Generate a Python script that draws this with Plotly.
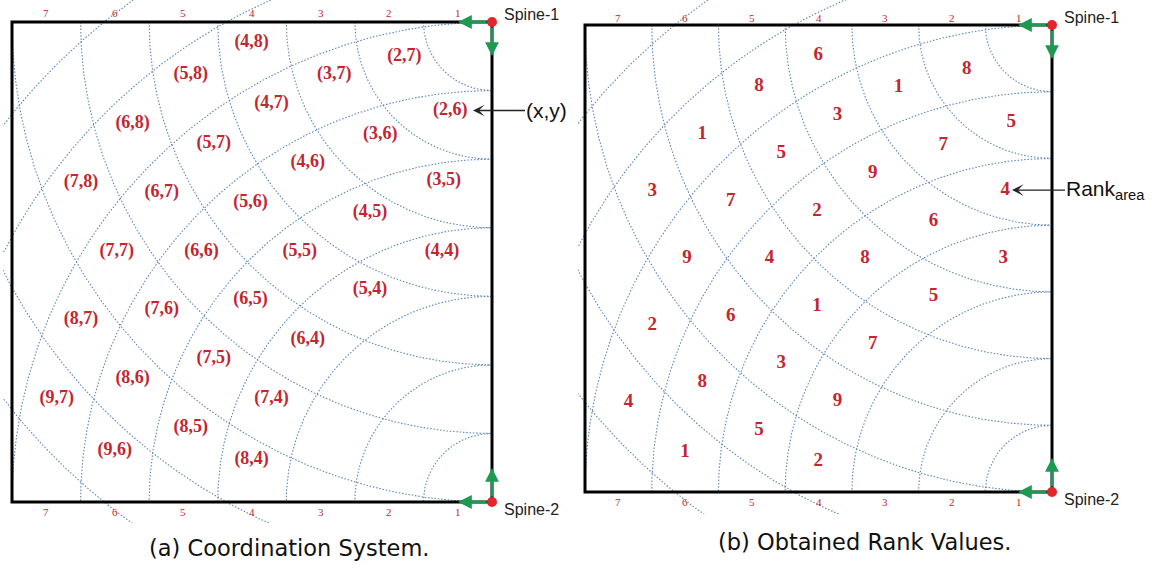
import numpy as np
import plotly.graph_objects as go

# ---------------- data ----------------
# edge band labels (distance bands from a spine, along top / bottom edges)
band_numbers = [1, 2, 3, 4, 5, 6, 7]
# arcs drawn around each spine (radius in band units)
arc_radii = [1, 2, 3, 4, 5, 6, 7, 8, 9]
# cells: x = band index from Spine-1, y = band index from Spine-2
cell_x = [4, 5, 2, 3, 6, 4, 2, 5, 3, 7, 6, 4, 5, 3, 4, 7, 6, 5, 4, 6, 5, 8, 7, 6, 7, 9, 8, 7, 8, 9, 8]
cell_y = [8, 8, 7, 7, 8, 7, 6, 7, 6, 8, 7, 6, 6, 5, 5, 7, 6, 5, 4, 5, 4, 7, 6, 4, 5, 7, 6, 4, 5, 6, 4]
rank_values = [6, 8, 8, 1, 1, 3, 5, 5, 7, 3, 7, 9, 2, 4, 6, 9, 4, 8, 3, 1, 5, 2, 6, 7, 3, 4, 8, 9, 5, 1, 2]
pointer_cell_a = (2, 6)   # cell the "(x,y)" arrow points at
pointer_cell_b = (3, 5)   # cell the "Rank_area" arrow points at
captions = ["(a) Coordination System.", "(b) Obtained Rank Values."]

# ---------------- styles ----------------
W, H = 1154, 569
BOX = 7.0
RED = "#c3262e"
BLUE = "#5b84b9"
GREEN = "#1c9a52"
SERIF = "Liberation Serif"
SANS = "Liberation Sans"

# panel pixel geometry
panels = [
    dict(sx=492, top=22, bot=502, area=(3, 497, 0, 523), xa="x", ya="y",
         cap_x=289, cap_y=548, tl_up=9, tl_dn=10, ptr=(19, 33), lab_up=11),
    dict(sx=1052, top=25, bot=492, area=(578, 1057, 0, 514), xa="x2", ya="y2",
         cap_x=864, cap_y=542, tl_up=7, tl_dn=10, ptr=(40, 13), lab_up=0),
]

# cell centroids (computed on a grid inside the box)
g = np.linspace(0, BOX, 701)
GX, GY = np.meshgrid(g, g)
B1 = np.ceil(np.hypot(GX - BOX, GY - BOX))
B2 = np.ceil(np.hypot(GX - BOX, GY))


def centroid(i, j):
    m = (B1 == i) & (B2 == j)
    return float(GX[m].mean()), float(GY[m].mean())


cent = [centroid(i, j) for i, j in zip(cell_x, cell_y)]
cx = np.array([c[0] for c in cent])
cy = np.array([c[1] for c in cent])

fig = go.Figure()
layout_axes = {}
annotations = []
dot_line = dict(color=BLUE, width=1.1, dash="1.5px,1.8px")

for p_i, P in enumerate(panels):
    u = (P["bot"] - P["top"]) / BOX
    x0p, x1p, y0p, y1p = P["area"]
    xr = [(x0p - P["sx"]) / u + BOX, (x1p - P["sx"]) / u + BOX]
    yr = [(P["bot"] - y1p) / u, (P["bot"] - y0p) / u]
    xkey = "xaxis" if p_i == 0 else "xaxis2"
    ykey = "yaxis" if p_i == 0 else "yaxis2"
    layout_axes[xkey] = dict(domain=[x0p / W, x1p / W], range=xr, visible=False,
                             anchor=P["ya"], fixedrange=True)
    layout_axes[ykey] = dict(domain=[1 - y1p / H, 1 - y0p / H], range=yr, visible=False,
                             anchor=P["xa"], fixedrange=True)
    xa, ya = P["xa"], P["ya"]

    # arcs around Spine-1 (top-right corner), lower-left quadrant
    for r in arc_radii:
        t = np.linspace(np.pi, 1.5 * np.pi, 300)
        fig.add_trace(go.Scatter(x=BOX + r * np.cos(t), y=BOX + r * np.sin(t), mode="lines",
                                 line=dot_line, hoverinfo="skip", showlegend=False,
                                 xaxis=xa, yaxis=ya))
    # arcs around Spine-2 (bottom-right corner), upper-left quadrant
    for r in arc_radii:
        t = np.linspace(0.5 * np.pi, np.pi, 300)
        fig.add_trace(go.Scatter(x=BOX + r * np.cos(t), y=r * np.sin(t), mode="lines",
                                 line=dot_line, hoverinfo="skip", showlegend=False,
                                 xaxis=xa, yaxis=ya))
    # box
    fig.add_trace(go.Scatter(x=[BOX, 0, 0, BOX, BOX], y=[BOX, BOX, 0, 0, BOX], mode="lines",
                             line=dict(color="black", width=3), hoverinfo="skip",
                             showlegend=False, xaxis=xa, yaxis=ya))
    # cell labels
    if p_i == 0:
        texts = ["<b>(%d,%d)</b>" % (a, b) for a, b in zip(cell_x, cell_y)]
        fsize = 18
    else:
        texts = ["<b>%d</b>" % v for v in rank_values]
        fsize = 19
    fig.add_trace(go.Scatter(x=cx, y=cy + P["lab_up"] / u, mode="text", text=texts,
                             textfont=dict(family=SERIF, size=fsize, color=RED),
                             hoverinfo="skip", showlegend=False, xaxis=xa, yaxis=ya))
    # spine dots
    fig.add_trace(go.Scatter(x=[BOX, BOX], y=[BOX, 0], mode="markers",
                             marker=dict(color="#e3262b", size=10), cliponaxis=False,
                             hoverinfo="skip", showlegend=False, xaxis=xa, yaxis=ya))

    # band labels along top and bottom edges
    for k in band_numbers:
        for yy, sh in ((BOX, P["tl_up"]), (0, -P["tl_dn"])):
            annotations.append(dict(x=BOX - (k - 0.5), y=yy, xref=xa, yref=ya, text=str(k),
                                    showarrow=False, yshift=sh,
                                    font=dict(family=SERIF, size=11, color=RED)))
    # green direction arrows at spines
    L = 34 / u
    for (tx, ty, sx, sy) in ((BOX - L, BOX, BOX, BOX), (BOX, BOX - L, BOX, BOX),
                             (BOX - L, 0, BOX, 0), (BOX, L, BOX, 0)):
        annotations.append(dict(x=tx, y=ty, ax=sx, ay=sy, xref=xa, yref=ya, axref=xa, ayref=ya,
                                text="", showarrow=True, arrowhead=2, arrowsize=1.15,
                                arrowwidth=2.4, arrowcolor=GREEN, startstandoff=4))
    # spine names
    annotations.append(dict(x=BOX, y=BOX, xref=xa, yref=ya, text="Spine-1", showarrow=False,
                            xanchor="left", xshift=10, yshift=8,
                            font=dict(family=SANS, size=16, color="#222222")))
    annotations.append(dict(x=BOX, y=0, xref=xa, yref=ya, text="Spine-2", showarrow=False,
                            xanchor="left", xshift=10, yshift=-7,
                            font=dict(family=SANS, size=16, color="#222222")))
    # pointer arrow with its text
    pc = pointer_cell_a if p_i == 0 else pointer_cell_b
    _, py_ = centroid(*pc)
    py_ = py_ + P["lab_up"] / u
    tip_px, tail_px = P["ptr"]
    txt = "(x,y)" if p_i == 0 else "Rank<sub>area</sub>"
    annotations.append(dict(x=BOX - tip_px / u, y=py_, ax=BOX + tail_px / u, ay=py_,
                            xref=xa, yref=ya, axref=xa, ayref=ya, text=txt,
                            xanchor="left", yanchor="middle", borderpad=0,
                            showarrow=True, arrowhead=3, arrowsize=1.5,
                            arrowwidth=1.3, arrowcolor="#222222",
                            font=dict(family=SANS, size=21, color="#111111")))
    # caption
    annotations.append(dict(x=P["cap_x"] / W, y=1 - P["cap_y"] / H, xref="paper", yref="paper",
                            text=captions[p_i], showarrow=False, xanchor="center",
                            yanchor="middle",
                            font=dict(family="DejaVu Sans", size=22.5, color="#111111")))

fig.update_layout(width=W, height=H, margin=dict(l=0, r=0, t=0, b=0),
                  paper_bgcolor="white", plot_bgcolor="white",
                  annotations=annotations, **layout_axes)
fig.write_html("out.html", config={"displayModeBar": False},
               post_script="document.body.style.margin='0px';")
